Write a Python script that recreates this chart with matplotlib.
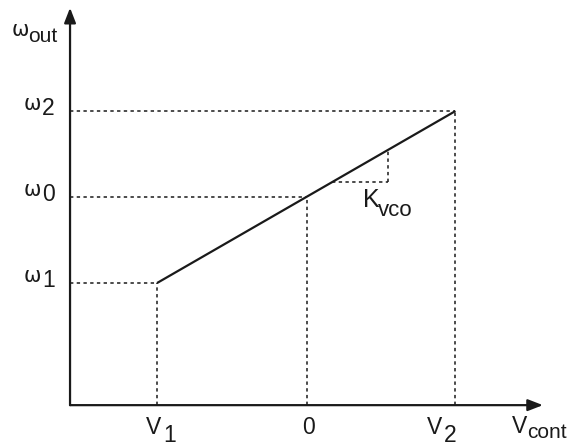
import matplotlib
matplotlib.use("Agg")
import matplotlib.pyplot as plt
from matplotlib.transforms import offset_copy

# Control voltages (V1, 0, V2) and output frequencies (w1, w0, w2)
v_points = [-1.0, 0.0, 0.99]
w_points = [-1.0, 0.0, 1.0]
v_labels = ["V", "0", "V"]
v_subs = ["1", "", "2"]
w_labels = ["ω", "ω", "ω"]
w_subs = ["1", "0", "2"]

# Slope marker (K_vco) spans this control-voltage interval on the line
k_span = [0.17, 0.54]

# Axis extents
v_origin, v_tip = -1.58, 1.573
w_origin, w_tip = -2.42, 2.2

fig = plt.figure(figsize=(5.69, 4.46), dpi=100)
ax = fig.add_axes([0, 0, 1, 1])
ax.set_xlim(-2.047, 1.747)
ax.set_ylim(-2.895, 2.291)
ax.axis("off")

FONT = "Liberation Sans"
GREEK = "DejaVu Sans"
INK = "#1a1a1a"
SIZE = 16.5
SUB = 15
GSIZE = 15


def px(x, y):
    return offset_copy(ax.transData, fig=fig, x=x, y=y, units="dots")


def label(x, y, s, dx, dy, size=SIZE, family=FONT):
    ax.text(x, y, s, transform=px(dx, dy), fontsize=size, family=family,
            ha="left", va="baseline", color=INK)


# Axes with arrow heads
arrow = dict(arrowstyle="-|>,head_length=0.9,head_width=0.35", lw=1.6,
             color=INK, shrinkA=0, shrinkB=0)
ax.annotate("", xy=(v_tip, w_origin), xytext=(v_origin, w_origin), arrowprops=arrow)
ax.annotate("", xy=(v_origin, w_tip), xytext=(v_origin, w_origin), arrowprops=arrow)

# Transfer characteristic
ax.plot([v_points[0], v_points[2]], [w_points[0], w_points[2]],
        color=INK, lw=1.6, solid_capstyle="butt")

# Dotted projection lines
dot = dict(color=INK, lw=1.1, linestyle=(0, (2.2, 2.2)))
for v, w in zip(v_points, w_points):
    ax.plot([v_origin, v], [w, w], **dot)
    ax.plot([v, v], [w_origin, w], **dot)

# K_vco slope triangle
slope = (w_points[2] - w_points[0]) / (v_points[2] - v_points[0])
wa = w_points[1] + slope * (k_span[0] - v_points[1])
wb = w_points[1] + slope * (k_span[1] - v_points[1])
ax.plot([k_span[0], k_span[1]], [wa, wa], **dot)
ax.plot([k_span[1], k_span[1]], [wa, wb], **dot)
label(k_span[1], wa, "K", -25, -25, size=18)
label(k_span[1], wa, "vco", -10, -34, size=16)

# Frequency labels on the vertical axis
for w, lab, sub in zip(w_points, w_labels, w_subs):
    label(v_origin, w, lab, -46, 1, size=GSIZE, family=GREEK)
    label(v_origin, w, sub, -28, -4, size=SIZE)

# Voltage labels on the horizontal axis
v_offsets = [(-11, 6), (-5, 0), (-29, -12)]
for v, lab, sub, (o1, o2) in zip(v_points, v_labels, v_subs, v_offsets):
    label(v, w_origin, lab, o1, -29)
    if sub:
        label(v, w_origin, sub, o2, -37)

# Axis titles
label(v_tip, w_origin, "V", -31, -28)
label(v_tip, w_origin, "cont", -16, -33, size=SUB)
label(v_origin, w_tip, "ω", -58, -28, size=GSIZE, family=GREEK)
label(v_origin, w_tip, "out", -42, -34, size=SUB)

fig.savefig("out.png", dpi=100)
